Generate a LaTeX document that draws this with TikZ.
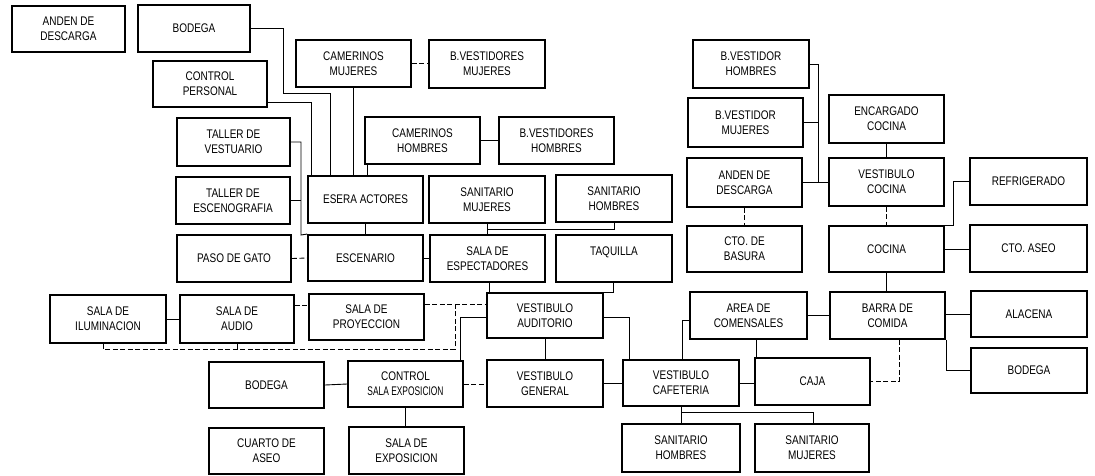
\documentclass[tikz,border=0pt]{standalone}
\usepackage{fontspec}
\setmainfont[FakeStretch=0.8]{Liberation Sans}
\begin{document}
\begin{tikzpicture}[x=1pt,y=-1pt,
  box/.style={draw, line width=1.9pt, rectangle, inner sep=0pt, align=center,
    font=\fontsize{12.5}{15}\selectfont},
  wire/.style={line width=0.9pt},
  dwire/.style={line width=0.9pt, dash pattern=on 5pt off 2.5pt}]
\useasboundingbox (0,0) rectangle (1095,475);
% boxes
\node[box,minimum width=113,minimum height=46] (and1) at (68.5,29) {ANDEN DE\\DESCARGA};
\node[box,minimum width=112,minimum height=47] (bod1) at (194,28.5) {BODEGA};
\node[box,minimum width=114,minimum height=46] (ctrlp) at (210,84) {CONTROL\\PERSONAL};
\node[box,minimum width=113,minimum height=48] (tves) at (233.5,142) {TALLER DE\\VESTUARIO};
\node[box,minimum width=114,minimum height=47] (tesc) at (233,200.5) {TALLER DE\\ESCENOGRAFIA};
\node[box,minimum width=114,minimum height=47] (paso) at (234,258.5) {PASO DE GATO};
\node[box,minimum width=116,minimum height=48] (ilum) at (108,319) {SALA DE\\ILUMINACION};
\node[box,minimum width=114,minimum height=48] (audio) at (237,319) {SALA DE\\AUDIO};
\node[box,minimum width=115,minimum height=46] (bod2) at (266.5,385) {BODEGA};
\node[box,minimum width=115,minimum height=46] (cuarto) at (266.5,451) {CUARTO DE\\ASEO};
\node[box,minimum width=115,minimum height=47] (camm) at (353.5,63.5) {CAMERINOS\\MUJERES};
\node[box,minimum width=116,minimum height=48] (bvm) at (487,64) {B.VESTIDORES\\MUJERES};
\node[box,minimum width=115,minimum height=47] (camh) at (422.5,140.5) {CAMERINOS\\HOMBRES};
\node[box,minimum width=115,minimum height=47] (bvh) at (556.5,140.5) {B.VESTIDORES\\HOMBRES};
\node[box,minimum width=115,minimum height=47] (esera) at (365.5,199.5) {ESERA ACTORES};
\node[box,minimum width=116,minimum height=47] (sanm) at (487,199.5) {SANITARIO\\MUJERES};
\node[box,minimum width=116,minimum height=47] (sanh) at (614,198.5) {SANITARIO\\HOMBRES};
\node[box,minimum width=115,minimum height=46] (escen) at (365.5,258) {ESCENARIO};
\node[box,minimum width=115,minimum height=47] (salaesp) at (487.5,258.5) {SALA DE\\ESPECTADORES};
\node[box,minimum width=116,minimum height=47] (taq) at (614,258.5) {TAQUILLA\\\mbox{}};
\node[box,minimum width=115,minimum height=46] (proy) at (366.5,317) {SALA DE\\PROYECCION};
\node[box,minimum width=116,minimum height=45] (vaud) at (545,315.5) {VESTIBULO\\AUDITORIO};
\node[box,minimum width=115,minimum height=46] (ctrlse) at (405.5,384) {CONTROL\\\scalebox{0.84}[1]{SALA EXPOSICION}};
\node[box,minimum width=116,minimum height=47] (vgen) at (545,383.5) {VESTIBULO\\GENERAL};
\node[box,minimum width=116,minimum height=46] (vcaf) at (681,383) {VESTIBULO\\CAFETERIA};
\node[box,minimum width=115,minimum height=47] (salaexp) at (406.5,450.5) {SALA DE\\EXPOSICION};
\node[box,minimum width=117,minimum height=47] (area) at (748.5,315.5) {AREA DE\\COMENSALES};
\node[box,minimum width=115,minimum height=47] (barra) at (887.5,315.5) {BARRA DE\\COMIDA};
\node[box,minimum width=116,minimum height=46] (alac) at (1029,314) {ALACENA};
\node[box,minimum width=116,minimum height=45] (bod3) at (1029,370.5) {BODEGA};
\node[box,minimum width=115,minimum height=47] (caja) at (812.5,381.5) {CAJA};
\node[box,minimum width=118,minimum height=48] (sanh2) at (681,448) {SANITARIO\\HOMBRES};
\node[box,minimum width=114,minimum height=48] (sanm2) at (812,448) {SANITARIO\\MUJERES};
\node[box,minimum width=116,minimum height=48] (bvdh) at (751,64) {B.VESTIDOR\\HOMBRES};
\node[box,minimum width=115,minimum height=49] (bvdm) at (745.5,122.5) {B.VESTIDOR\\MUJERES};
\node[box,minimum width=115,minimum height=48] (enc) at (886.5,119) {ENCARGADO\\COCINA};
\node[box,minimum width=115,minimum height=49] (and2) at (744.5,182.5) {ANDEN DE\\DESCARGA};
\node[box,minimum width=115,minimum height=46] (basura) at (744.5,249) {CTO. DE\\BASURA};
\node[box,minimum width=115,minimum height=48] (vcoc) at (886.5,182) {VESTIBULO\\COCINA};
\node[box,minimum width=115,minimum height=46] (cocina) at (886.5,249) {COCINA};
\node[box,minimum width=117,minimum height=47] (refr) at (1028.5,181.5) {REFRIGERADO};
\node[box,minimum width=117,minimum height=47] (aseo) at (1028.5,248.5) {CTO. ASEO};
% connectors
\draw[wire] (bod1.east) -| (283,93) -| (330,0 |- esera.north);
\draw[wire] (ctrlp.east |- 0,102) -| (311,0 |- esera.north);
\draw[wire] (tves.east) -| (301,235) -- (escen.north west);
\draw[wire] (tesc.east) -- (301,0 |- tesc.east);
\draw[dwire] (paso.east) -- (escen.west);
\draw[wire] (camm.south) -- (camm.south |- esera.north);
\draw[dwire] (camm.east) -- (bvm.west |- camm.east);
\draw[wire] (camh.east) -- (bvh.west);
\draw[wire] (367,0 |- camh.south) -- (367,0 |- esera.north);
\draw[wire] (esera.south) -- (esera.south |- escen.north);
\draw[wire] (sanm.south) -- (sanm.south |- salaesp.north);
\draw[wire] (sanm.south |- 0,229) -| (sanh.south);
\draw[wire] (escen.east) -- (salaesp.west |- escen.east);
\draw[wire] (489,0 |- salaesp.south) -- (489,0 |- vaud.north);
\draw[wire] (613,0 |- taq.south) |- (vaud.north east);
\draw[dwire] (proy.east |- 0,304) -- (vaud.west |- 0,304);
\draw[dwire] (103,0 |- ilum.south) |- (455,349) -- (455,304);
\draw[dwire] (audio.south) -- (audio.south |- 0,349);
\draw[wire] (ilum.east) -- (audio.west);
\draw[dwire] (audio.east |- 0,305) -- (proy.west |- 0,305);
\draw[wire] (vaud.west |- 0,317) -| (460,0 |- ctrlse.north);
\draw[wire] (vaud.south) -- (vgen.north);
\draw[wire] (vaud.east |- 0,317) -| (629,0 |- vcaf.north);
\draw[wire] (bod2.east) -- (ctrlse.west);
\draw[dwire] (ctrlse.east) -- (vgen.west |- ctrlse.east);
\draw[wire] (vgen.east) -- (vcaf.west |- vgen.east);
\draw[wire] (ctrlse.south) -- (ctrlse.south |- salaexp.north);
\draw[wire] (682,0 |- vcaf.north) |- (area.west |- 0,320);
\draw[wire] (756,0 |- area.south) -- (756,0 |- caja.north);
\draw[wire] (vcaf.east) -- (caja.west |- vcaf.east);
\draw[wire] (area.east) -- (barra.west);
\draw[wire] (barra.east |- alac.west) -- (alac.west);
\draw[wire] (barra.south east) |- (bod3.west);
\draw[dwire] (899,0 |- barra.south) |- (caja.east);
\draw[wire] (vcaf.south) -- (vcaf.south |- sanh2.north);
\draw[wire] (vcaf.south |- 0,412) -| (813,0 |- sanm2.north);
\draw[wire] (cocina.south) -- (cocina.south |- barra.north);
\draw[dwire] (vcoc.south) -- (vcoc.south |- cocina.north);
\draw[wire] (enc.south) -- (enc.south |- vcoc.north);
\draw[wire] (cocina.north east) -- (953,0 |- cocina.north) |- (refr.west);
\draw[wire] (cocina.east) -- (aseo.west |- cocina.east);
\draw[wire] (bvdh.east) -| (818,0 |- and2.east);
\draw[wire] (bvdm.east) -- (818,0 |- bvdm.east);
\draw[wire] (and2.east) -- (vcoc.west |- and2.east);
\draw[dwire] (and2.south) -- (and2.south |- basura.north);
\end{tikzpicture}
\end{document}
